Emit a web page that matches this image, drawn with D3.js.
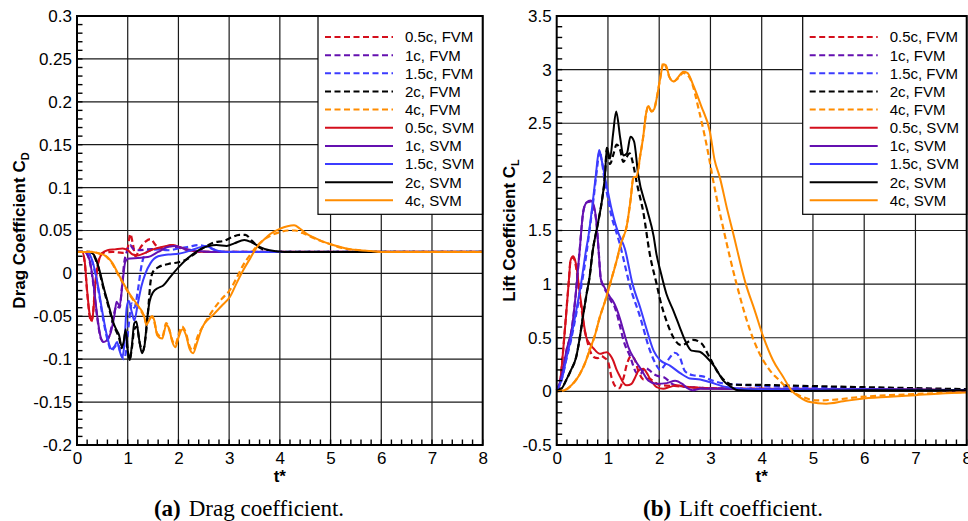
<!DOCTYPE html>
<html>
<head>
<meta charset="utf-8">
<script src="https://cdn.jsdelivr.net/npm/d3@7"></script>
<style>
  body { margin: 0; background: #fff; }
  svg { display: block; }
</style>
</head>
<body>
<svg id="chart" width="968" height="521"></svg>
<script>
// cases and colours (same order in both panels)
const cases = ['0.5c', '1c', '1.5c', '2c', '4c'];
const colors = ['#d40f1c', '#6410b0', '#3c3cff', '#000000', '#ff8c00'];

// drag coefficient, [t*, C_D]
const cdFVM05 = [[0,0.025],[0.1,0.025],[0.15,0.014],[0.2,-0.022],[0.25,-0.05],[0.28,-0.056],[0.31,-0.05],[0.36,-0.012],[0.42,0.014],[0.5,0.024],[0.7,0.025],[0.9,0.024],[1.0,0.03],[1.05,0.046],[1.1,0.035],[1.15,0.02],[1.25,0.03],[1.35,0.037],[1.45,0.04],[1.55,0.033],[1.7,0.028],[1.85,0.033],[2.0,0.031],[2.2,0.027],[2.5,0.025],[8,0.025]];
const cdSVM05 = [[0,0.025],[0.1,0.025],[0.15,0.015],[0.2,-0.02],[0.25,-0.048],[0.28,-0.055],[0.31,-0.05],[0.36,-0.015],[0.42,0.012],[0.48,0.022],[0.6,0.027],[0.75,0.028],[0.9,0.029],[1.0,0.027],[1.1,0.022],[1.2,0.021],[1.35,0.024],[1.5,0.028],[1.7,0.031],[1.9,0.033],[2.05,0.03],[2.3,0.026],[2.6,0.025],[8,0.025]];
const cdFVM1 = [[0,0.025],[0.15,0.025],[0.25,0.014],[0.32,-0.012],[0.4,-0.052],[0.47,-0.076],[0.53,-0.08],[0.6,-0.078],[0.66,-0.068],[0.72,-0.05],[0.78,-0.038],[0.84,-0.04],[0.88,-0.02],[0.93,0.012],[0.98,0.025],[1.05,0.033],[1.1,0.029],[1.2,0.027],[1.4,0.028],[1.6,0.029],[1.8,0.032],[2.0,0.03],[2.2,0.027],[2.5,0.025],[8,0.025]];
const cdSVM1 = [[0,0.025],[0.15,0.025],[0.25,0.015],[0.32,-0.01],[0.4,-0.05],[0.47,-0.075],[0.53,-0.08],[0.6,-0.077],[0.66,-0.07],[0.74,-0.048],[0.78,-0.033],[0.84,-0.038],[0.9,-0.01],[0.95,0.013],[1.0,0.017],[1.2,0.018],[1.4,0.019],[1.6,0.025],[1.8,0.031],[1.95,0.032],[2.1,0.029],[2.4,0.026],[2.7,0.025],[8,0.025]];
const cdFVM15 = [[0,0.025],[0.2,0.025],[0.3,0.014],[0.4,-0.012],[0.5,-0.048],[0.6,-0.077],[0.68,-0.09],[0.74,-0.086],[0.8,-0.082],[0.86,-0.092],[0.92,-0.1],[0.97,-0.09],[1.02,-0.06],[1.08,-0.035],[1.13,-0.04],[1.2,-0.02],[1.26,0.005],[1.32,0.02],[1.4,0.026],[1.6,0.028],[1.8,0.027],[2.0,0.029],[2.2,0.031],[2.4,0.033],[2.6,0.03],[2.8,0.026],[3.0,0.025],[8,0.025]];
const cdSVM15 = [[0,0.025],[0.2,0.025],[0.3,0.015],[0.4,-0.01],[0.5,-0.045],[0.6,-0.075],[0.68,-0.088],[0.74,-0.085],[0.79,-0.08],[0.84,-0.09],[0.89,-0.098],[0.93,-0.085],[0.98,-0.04],[1.02,-0.032],[1.08,-0.045],[1.13,-0.055],[1.2,-0.035],[1.27,-0.015],[1.35,0.0],[1.45,0.012],[1.6,0.02],[1.8,0.022],[2.0,0.023],[2.2,0.026],[2.4,0.03],[2.55,0.032],[2.7,0.028],[2.9,0.025],[8,0.025]];
const cdFVM2 = [[0,0.025],[0.25,0.025],[0.33,0.021],[0.4,0.011],[0.46,-0.002],[0.52,-0.017],[0.59,-0.032],[0.66,-0.047],[0.72,-0.06],[0.78,-0.068],[0.83,-0.075],[0.88,-0.087],[0.92,-0.082],[0.96,-0.068],[1.0,-0.09],[1.04,-0.1],[1.08,-0.088],[1.13,-0.065],[1.18,-0.062],[1.24,-0.082],[1.3,-0.09],[1.35,-0.075],[1.4,-0.045],[1.45,-0.01],[1.5,0.002],[1.6,0.007],[1.8,0.011],[2.0,0.013],[2.15,0.016],[2.3,0.022],[2.5,0.03],[2.7,0.036],[2.9,0.038],[3.05,0.042],[3.2,0.045],[3.32,0.045],[3.45,0.038],[3.6,0.03],[3.8,0.026],[4.1,0.025],[8,0.025]];
const cdSVM2 = [[0,0.025],[0.25,0.025],[0.33,0.022],[0.4,0.012],[0.46,0.0],[0.52,-0.015],[0.59,-0.03],[0.66,-0.045],[0.72,-0.058],[0.78,-0.066],[0.83,-0.072],[0.88,-0.085],[0.92,-0.08],[0.96,-0.065],[1.0,-0.09],[1.04,-0.101],[1.08,-0.085],[1.13,-0.058],[1.17,-0.056],[1.22,-0.075],[1.28,-0.093],[1.33,-0.085],[1.38,-0.055],[1.43,-0.033],[1.5,-0.022],[1.6,-0.017],[1.7,-0.014],[1.84,-0.004],[2.0,0.007],[2.15,0.016],[2.3,0.023],[2.45,0.029],[2.6,0.032],[2.75,0.033],[2.95,0.032],[3.1,0.035],[3.3,0.039],[3.45,0.036],[3.6,0.031],[3.8,0.027],[4.1,0.025],[8,0.025]];
const cdFVM4 = [[0,0.025],[0.3,0.025],[0.45,0.023],[0.59,0.019],[0.7,0.011],[0.79,0.001],[0.92,-0.013],[1.05,-0.026],[1.22,-0.04],[1.32,-0.05],[1.37,-0.058],[1.42,-0.054],[1.48,-0.05],[1.53,-0.058],[1.58,-0.07],[1.68,-0.074],[1.76,-0.058],[1.82,-0.066],[1.88,-0.078],[1.94,-0.083],[2.0,-0.072],[2.07,-0.062],[2.15,-0.07],[2.22,-0.085],[2.29,-0.09],[2.37,-0.075],[2.5,-0.06],[2.69,-0.042],[2.85,-0.03],[3.02,-0.019],[3.15,-0.005],[3.28,0.01],[3.42,0.022],[3.55,0.032],[3.7,0.04],[3.85,0.045],[4.0,0.048],[4.15,0.05],[4.3,0.05],[4.45,0.047],[4.6,0.043],[4.8,0.038],[5.0,0.034],[5.2,0.03],[5.4,0.028],[5.7,0.026],[6.0,0.025],[8,0.025]];
const cdSVM4 = [[0,0.025],[0.3,0.025],[0.45,0.023],[0.59,0.0195],[0.7,0.012],[0.79,0.002],[0.92,-0.012],[1.05,-0.025],[1.22,-0.039],[1.32,-0.049],[1.37,-0.06],[1.42,-0.055],[1.48,-0.05],[1.53,-0.056],[1.58,-0.072],[1.68,-0.076],[1.76,-0.06],[1.82,-0.065],[1.88,-0.08],[1.94,-0.086],[2.0,-0.075],[2.08,-0.065],[2.15,-0.072],[2.22,-0.088],[2.29,-0.093],[2.37,-0.08],[2.47,-0.063],[2.69,-0.048],[2.85,-0.038],[3.02,-0.027],[3.15,-0.011],[3.28,0.004],[3.42,0.018],[3.55,0.031],[3.7,0.04],[3.81,0.046],[4.0,0.052],[4.15,0.055],[4.28,0.056],[4.4,0.052],[4.53,0.046],[4.7,0.041],[4.85,0.037],[5.0,0.034],[5.18,0.031],[5.4,0.028],[5.57,0.027],[5.8,0.026],[6.0,0.025],[8,0.025]];

// lift coefficient, [t*, C_L]
const clFVM05 = [[0,0.01],[0.06,0.07],[0.12,0.35],[0.18,0.7],[0.24,1.05],[0.27,1.22],[0.32,1.25],[0.36,1.2],[0.39,1.12],[0.44,0.92],[0.49,0.75],[0.54,0.58],[0.58,0.5],[0.65,0.38],[0.72,0.32],[0.8,0.31],[0.87,0.33],[0.94,0.31],[1.0,0.28],[1.07,0.13],[1.14,0.05],[1.22,0.03],[1.3,0.12],[1.38,0.27],[1.45,0.33],[1.52,0.3],[1.6,0.18],[1.7,0.11],[1.8,0.12],[1.9,0.09],[2.0,0.06],[2.3,0.05],[2.6,0.04],[3.0,0.03],[4,0.025],[6,0.02],[8,0.01]];
const clSVM05 = [[0,0.01],[0.06,0.07],[0.12,0.35],[0.18,0.69],[0.24,1.05],[0.27,1.22],[0.32,1.26],[0.36,1.22],[0.39,1.15],[0.44,0.95],[0.49,0.78],[0.54,0.6],[0.58,0.5],[0.65,0.44],[0.72,0.4],[0.8,0.36],[0.85,0.35],[0.92,0.36],[0.98,0.365],[1.04,0.34],[1.1,0.29],[1.17,0.2],[1.24,0.133],[1.3,0.08],[1.37,0.056],[1.46,0.07],[1.53,0.13],[1.6,0.195],[1.69,0.21],[1.76,0.17],[1.82,0.118],[1.95,0.04],[2.08,0.025],[2.2,0.04],[2.34,0.056],[2.54,0.04],[2.8,0.03],[3.2,0.025],[4,0.02],[6,0.02],[8,0.01]];
const clFVM1 = [[0,0.01],[0.06,0.08],[0.12,0.2],[0.19,0.38],[0.3,0.6],[0.36,0.85],[0.44,1.27],[0.52,1.68],[0.58,1.76],[0.66,1.77],[0.72,1.72],[0.78,1.55],[0.82,1.3],[0.86,1.05],[0.92,0.97],[1.0,0.9],[1.06,0.84],[1.12,0.8],[1.17,0.73],[1.24,0.6],[1.3,0.48],[1.43,0.33],[1.56,0.17],[1.63,0.16],[1.72,0.22],[1.8,0.2],[1.9,0.16],[2.0,0.14],[2.1,0.13],[2.25,0.07],[2.4,0.05],[2.6,0.04],[3.0,0.03],[4,0.025],[6,0.02],[8,0.01]];
const clSVM1 = [[0,0.01],[0.06,0.08],[0.12,0.2],[0.19,0.38],[0.3,0.6],[0.36,0.85],[0.44,1.27],[0.52,1.68],[0.58,1.76],[0.66,1.78],[0.72,1.74],[0.77,1.6],[0.82,1.3],[0.86,1.05],[0.91,0.99],[0.98,0.93],[1.04,0.88],[1.1,0.84],[1.17,0.77],[1.24,0.67],[1.3,0.57],[1.4,0.41],[1.53,0.29],[1.66,0.195],[1.79,0.1],[1.95,0.07],[2.15,0.077],[2.31,0.1],[2.45,0.07],[2.55,0.03],[2.65,0.01],[2.8,0.025],[3.2,0.025],[4,0.02],[6,0.02],[8,0.01]];
const clFVM15 = [[0,0.01],[0.06,0.06],[0.12,0.15],[0.18,0.28],[0.28,0.48],[0.38,0.72],[0.48,0.98],[0.57,1.25],[0.64,1.5],[0.72,1.8],[0.78,2.05],[0.84,2.24],[0.88,2.15],[0.94,1.95],[1.0,1.8],[1.07,1.63],[1.14,1.52],[1.24,1.36],[1.32,1.2],[1.42,1.0],[1.63,0.69],[1.82,0.38],[1.95,0.24],[2.02,0.2],[2.1,0.24],[2.2,0.31],[2.3,0.36],[2.4,0.32],[2.5,0.19],[2.66,0.15],[2.85,0.14],[3.04,0.1],[3.31,0.07],[3.6,0.06],[4,0.05],[5,0.04],[6,0.03],[8,0.02]];
const clSVM15 = [[0,0.01],[0.06,0.06],[0.12,0.15],[0.18,0.29],[0.28,0.5],[0.38,0.75],[0.48,1.02],[0.57,1.31],[0.62,1.45],[0.7,1.75],[0.76,2.0],[0.83,2.25],[0.88,2.15],[0.94,2.0],[1.0,1.86],[1.07,1.7],[1.14,1.57],[1.2,1.48],[1.33,1.33],[1.48,1.0],[1.63,0.78],[1.76,0.57],[1.89,0.38],[2.02,0.29],[2.21,0.24],[2.41,0.17],[2.6,0.12],[2.8,0.11],[2.98,0.087],[3.31,0.04],[3.6,0.025],[4,0.02],[6,0.02],[8,0.01]];
const clFVM2 = [[0,0.01],[0.1,0.03],[0.18,0.1],[0.28,0.2],[0.38,0.32],[0.45,0.5],[0.51,0.69],[0.58,0.9],[0.64,1.06],[0.7,1.3],[0.81,1.58],[0.88,1.77],[0.94,2.0],[0.98,2.27],[1.04,2.12],[1.1,2.2],[1.17,2.3],[1.24,2.25],[1.3,2.14],[1.36,2.18],[1.42,2.22],[1.5,2.1],[1.56,1.95],[1.69,1.67],[1.82,1.27],[1.95,1.0],[2.02,0.85],[2.14,0.66],[2.27,0.51],[2.43,0.43],[2.66,0.48],[2.82,0.45],[2.98,0.32],[3.14,0.18],[3.31,0.087],[3.44,0.062],[3.96,0.06],[4.94,0.05],[5.9,0.04],[7,0.03],[8,0.02]];
const clSVM2 = [[0,0.01],[0.1,0.03],[0.18,0.1],[0.28,0.2],[0.38,0.32],[0.45,0.5],[0.51,0.69],[0.58,0.9],[0.64,1.06],[0.7,1.3],[0.81,1.58],[0.88,1.77],[0.94,2.0],[0.98,2.27],[1.04,2.17],[1.1,2.4],[1.16,2.61],[1.24,2.36],[1.3,2.2],[1.37,2.22],[1.44,2.375],[1.51,2.33],[1.59,2.02],[1.76,1.7],[1.89,1.45],[1.95,1.27],[2.02,1.13],[2.14,0.91],[2.27,0.76],[2.4,0.6],[2.5,0.48],[2.63,0.38],[2.79,0.37],[2.92,0.32],[3.08,0.23],[3.25,0.1],[3.41,0.04],[3.54,0.01],[3.96,0.003],[5,0.005],[6,0.01],[8,0.01]];
const clFVM4 = [[0,0],[0.15,0.01],[0.25,0.04],[0.35,0.09],[0.45,0.16],[0.55,0.26],[0.64,0.38],[0.75,0.53],[0.84,0.69],[0.95,0.85],[1.04,1.0],[1.17,1.22],[1.27,1.4],[1.37,1.55],[1.44,1.78],[1.5,2.0],[1.56,2.0],[1.63,2.2],[1.69,2.38],[1.74,2.58],[1.79,2.66],[1.85,2.61],[1.9,2.63],[1.95,2.73],[2.02,2.92],[2.08,3.06],[2.13,3.03],[2.2,2.93],[2.28,2.89],[2.37,2.92],[2.47,2.97],[2.55,2.95],[2.6,2.92],[2.79,2.59],[2.98,2.16],[3.04,2.0],[3.26,1.5],[3.51,1.0],[3.78,0.56],[3.93,0.38],[4.16,0.196],[4.35,0.1],[4.55,0.01],[4.74,-0.04],[5.07,-0.084],[5.4,-0.078],[5.9,-0.053],[6.5,-0.035],[7,-0.025],[8,-0.005]];
const clSVM4 = [[0,0],[0.15,0.01],[0.25,0.04],[0.35,0.09],[0.45,0.16],[0.55,0.26],[0.64,0.38],[0.75,0.53],[0.84,0.69],[0.95,0.85],[1.04,1.0],[1.17,1.22],[1.24,1.36],[1.37,1.55],[1.44,1.78],[1.5,2.0],[1.56,2.0],[1.63,2.2],[1.69,2.38],[1.74,2.58],[1.79,2.66],[1.85,2.61],[1.9,2.63],[1.95,2.73],[2.02,2.92],[2.08,3.05],[2.13,3.04],[2.2,2.93],[2.28,2.89],[2.37,2.93],[2.47,2.98],[2.55,2.97],[2.66,2.86],[2.82,2.66],[2.99,2.42],[3.08,2.16],[3.18,2.0],[3.33,1.69],[3.43,1.5],[3.69,1.0],[3.86,0.76],[4.03,0.51],[4.22,0.29],[4.42,0.134],[4.58,0.01],[4.74,-0.053],[4.94,-0.1],[5.26,-0.115],[5.59,-0.093],[5.91,-0.07],[6.5,-0.05],[7,-0.035],[7.5,-0.02],[8,-0.01]];

const svg = d3.select('#chart');

function drawPanel(p) {
    const x = d3.scaleLinear().domain([0, 8]).range([p.left, p.right]);
    const y = d3.scaleLinear().domain(p.yDomain).range([p.bottom, p.top]);
    const g = svg.append('g');

    // grid
    g.append('g').selectAll('line')
        .data(d3.range(1, 8))
        .join('line')
        .attr('x1', d => x(d)).attr('x2', d => x(d))
        .attr('y1', p.top).attr('y2', p.bottom)
        .attr('stroke', '#1a1a1a').attr('stroke-width', 1.2);
    g.append('g').selectAll('line')
        .data(p.yMajor.slice(1, -1))
        .join('line')
        .attr('x1', p.left).attr('x2', p.right)
        .attr('y1', d => y(d)).attr('y2', d => y(d))
        .attr('stroke', '#1a1a1a').attr('stroke-width', 1.2);

    // curves: FVM dashed first, SVM solid on top
    const line = d3.line()
        .x(d => x(d[0]))
        .y(d => y(d[1]))
        .curve(d3.curveMonotoneX);
    p.fvm.forEach((s, i) => {
        g.append('path').attr('d', line(s))
            .attr('fill', 'none').attr('stroke', colors[i])
            .attr('stroke-width', 2.2).attr('stroke-dasharray', '6,3.5');
    });
    p.svm.forEach((s, i) => {
        g.append('path').attr('d', line(s))
            .attr('fill', 'none').attr('stroke', colors[i])
            .attr('stroke-width', 2);
    });

    // legend
    const leg = g.append('g');
    leg.append('rect')
        .attr('x', p.legendX).attr('y', p.top)
        .attr('width', p.right - p.legendX).attr('height', 214.3 - p.top)
        .attr('fill', '#fff').attr('stroke', '#000').attr('stroke-width', 1.2);
    const entries = cases.map((c, i) => ({ label: c + ', FVM', color: colors[i], dash: true }))
        .concat(cases.map((c, i) => ({ label: c + ', SVM', color: colors[i], dash: false })));
    entries.forEach((e, i) => {
        const yy = 37 + i * 18.15;
        leg.append('line')
            .attr('x1', p.legendX + 7).attr('x2', p.legendX + 75)
            .attr('y1', yy).attr('y2', yy)
            .attr('stroke', e.color).attr('stroke-width', 2)
            .attr('stroke-dasharray', e.dash ? '6,3.5' : null);
        leg.append('text')
            .attr('x', p.legendX + 87).attr('y', yy).attr('dy', '0.36em')
            .attr('font-family', 'Liberation Sans, Arial, sans-serif')
            .attr('font-size', 15).text(e.label);
    });

    // frame
    g.append('rect')
        .attr('x', p.left).attr('y', p.top)
        .attr('width', p.right - p.left).attr('height', p.bottom - p.top)
        .attr('fill', 'none').attr('stroke', '#000').attr('stroke-width', 2);

    // minor ticks, inside the frame on left and bottom
    g.append('g').selectAll('line')
        .data(d3.range(0, Math.round((p.yDomain[1] - p.yDomain[0]) / p.yMinor) + 1)
            .map(k => p.yDomain[0] + k * p.yMinor))
        .join('line')
        .attr('x1', p.left).attr('x2', p.left + 5.5)
        .attr('y1', d => y(d)).attr('y2', d => y(d))
        .attr('stroke', '#000').attr('stroke-width', 1.4);
    g.append('g').selectAll('line')
        .data(d3.range(0, 41).map(k => k * 0.2))
        .join('line')
        .attr('x1', d => x(d)).attr('x2', d => x(d))
        .attr('y1', p.bottom).attr('y2', p.bottom - 5.5)
        .attr('stroke', '#000').attr('stroke-width', 1.4);

    // tick labels
    const yAxis = g.append('g')
        .attr('transform', `translate(${p.left},0)`)
        .call(d3.axisLeft(y).tickValues(p.yMajor).tickSize(0).tickPadding(5)
            .tickFormat(p.yFmt));
    const xAxis = g.append('g')
        .attr('transform', `translate(0,${p.bottom})`)
        .call(d3.axisBottom(x).tickValues(d3.range(0, 9)).tickSize(0).tickPadding(7)
            .tickFormat(d3.format('d')));
    [yAxis, xAxis].forEach(a => {
        a.select('.domain').remove();
        a.selectAll('text')
            .attr('font-family', 'Liberation Sans, Arial, sans-serif')
            .attr('font-size', 17).attr('fill', '#000');
    });

    // axis titles
    const yt = g.append('text')
        .attr('transform', `translate(${p.titleX},${(p.top + p.bottom) / 2}) rotate(-90)`)
        .attr('text-anchor', 'middle')
        .attr('font-family', 'Liberation Sans, Arial, sans-serif')
        .attr('font-size', 17).attr('font-weight', 'bold');
    yt.append('tspan').text(p.yTitle + ' C');
    yt.append('tspan').attr('font-size', 11).attr('dy', 4).text(p.ySub);

    g.append('text')
        .attr('x', x(4)).attr('y', 482)
        .attr('text-anchor', 'middle')
        .attr('font-family', 'Liberation Sans, Arial, sans-serif')
        .attr('font-size', 17).attr('font-weight', 'bold')
        .text('t*');

    // caption
    const cap = g.append('text')
        .attr('x', p.captionX).attr('y', 516)
        .attr('text-anchor', 'middle')
        .attr('font-family', 'Liberation Serif, Times New Roman, serif')
        .attr('font-size', 23);
    cap.append('tspan').attr('font-weight', 'bold').text(p.tag);
    cap.append('tspan').attr('dx', 8).text(p.caption);
}

drawPanel({
    left: 77, right: 482.7, top: 16, bottom: 445,
    yDomain: [-0.2, 0.3],
    yMajor: d3.range(0, 11).map(k => -0.2 + k * 0.05),
    yMinor: 0.01,
    yFmt: d => String(+d.toFixed(2)),
    fvm: [cdFVM05, cdFVM1, cdFVM15, cdFVM2, cdFVM4],
    svm: [cdSVM05, cdSVM1, cdSVM15, cdSVM2, cdSVM4],
    yTitle: 'Drag Coefficient', ySub: 'D', titleX: 25,
    legendX: 318,
    tag: '(a)', caption: 'Drag coefficient.', captionX: 249
});

drawPanel({
    left: 556.7, right: 966.7, top: 16, bottom: 445,
    yDomain: [-0.5, 3.5],
    yMajor: d3.range(0, 9).map(k => -0.5 + k * 0.5),
    yMinor: 0.1,
    yFmt: d => String(+d.toFixed(1)),
    fvm: [clFVM05, clFVM1, clFVM15, clFVM2, clFVM4],
    svm: [clSVM05, clSVM1, clSVM15, clSVM2, clSVM4],
    yTitle: 'Lift Coefficient', ySub: 'L', titleX: 515,
    legendX: 802.7,
    tag: '(b)', caption: 'Lift coefficient.', captionX: 733
});
</script>
</body>
</html>
